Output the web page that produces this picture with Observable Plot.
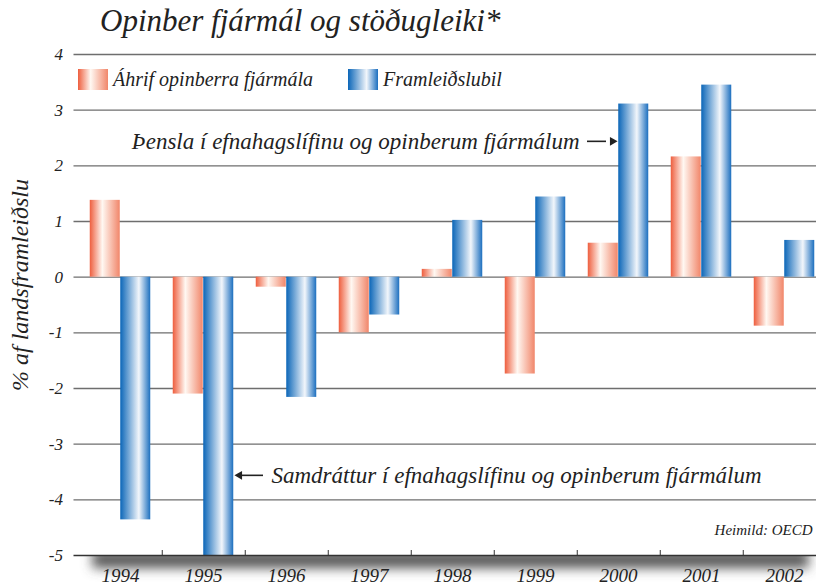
<!DOCTYPE html>
<html>
<head>
<meta charset="utf-8">
<script src="https://cdn.jsdelivr.net/npm/d3@7"></script>
<script src="https://cdn.jsdelivr.net/npm/@observablehq/plot@0.6"></script>
<style>
  html, body { margin: 0; padding: 0; background: #fff; overflow: hidden; }
  #wrap { position: relative; width: 816px; height: 586px; overflow: hidden; font-family: "Liberation Serif", "Times New Roman", Tinos, "DejaVu Serif", "Noto Serif", serif; color: #222; }
  #wrap svg { position: absolute; left: 0; top: 0; max-width: none !important; }
  #title { position: absolute; left: 100px; top: 3px; font-style: italic; font-size: 31px; white-space: nowrap; z-index: 2; }
  .leg { position: absolute; top: 69px; height: 21px; display: flex; align-items: center; font-style: italic; font-size: 20px; white-space: nowrap; z-index: 2; }
  .sw { width: 30px; height: 21px; margin-right: 5px; }
  #ylab { position: absolute; left: 20px; top: 285px; transform: translate(-50%, -50%) rotate(-90deg); font-style: italic; font-size: 24px; white-space: nowrap; z-index: 2; }
</style>
</head>
<body>
<div id="wrap">
  <div id="title">Opinber fjármál og stöðugleiki*</div>
  <div class="leg" style="left:78px"><div class="sw" style="background:linear-gradient(90deg,#ee5e3e 0%,#fff8f2 42%,#f1866a 100%)"></div>Áhrif opinberra fjármála</div>
  <div class="leg" style="left:348px"><div class="sw" style="background:linear-gradient(90deg,#0b66b8 0%,#f2f6fb 62%,#1c6fbf 100%)"></div>Framleiðslubil</div>
  <div id="ylab">% af landsframleiðslu</div>
</div>
<script>
// ---- data ----
const years = [1994, 1995, 1996, 1997, 1998, 1999, 2000, 2001, 2002];
const fiscalImpact = [1.38, -2.1, -0.18, -1.0, 0.14, -1.74, 0.61, 2.16, -0.88];   // Áhrif opinberra fjármála
const outputGap   = [-4.36, -5.0, -2.16, -0.68, 1.02, 1.44, 3.11, 3.45, 0.66];    // Framleiðslubil
const yTicks = [4, 3, 2, 1, 0, -1, -2, -3, -4, -5];
const notes = [
  {year: 2000, y: 2.44, text: "Þensla í efnahagslífinu og opinberum fjármálum"},
  {year: 1995, y: -3.56, text: "Samdráttur í efnahagslífinu og opinberum fjármálum"}
];
const source = [{year: 2002, y: -4.55, text: "Heimild: OECD"}];

const fiscalData = years.map((year, i) => ({year, value: fiscalImpact[i]}));
const gapData = years.map((year, i) => ({year, value: outputGap[i]}));

const FONT = "'Liberation Serif', 'Times New Roman', Tinos, 'DejaVu Serif', 'Noto Serif', serif";
const NS = "http://www.w3.org/2000/svg";
function el(name, attrs, children = []) {
  const e = document.createElementNS(NS, name);
  for (const k in attrs) e.setAttribute(k, attrs[k]);
  for (const c of children) e.appendChild(c);
  return e;
}
function grad(id, stops) {
  return el("linearGradient", {id, x1: "0", y1: "0", x2: "1", y2: "0"},
    stops.map(([o, c]) => el("stop", {offset: o, "stop-color": c})));
}
const defsMark = () => el("defs", {}, [
  grad("gRed", [["0%", "#ee5e3e"], ["42%", "#fff8f2"], ["100%", "#f1866a"]]),
  grad("gBlue", [["0%", "#0b66b8"], ["62%", "#f2f6fb"], ["100%", "#1c6fbf"]]),
  el("filter", {id: "blur", x: "-20%", y: "-200%", width: "140%", height: "500%"}, [
    el("feGaussianBlur", {stdDeviation: "6"})
  ])
]);
const shadowMark = (index, scales, values, dim) => {
  const y0 = scales.y(-5);
  const clip = el("clipPath", {id: "below"}, [el("rect", {x: 0, y: y0 + 1, width: dim.width, height: 40})]);
  const g = el("g", {"clip-path": "url(#below)"}, [
    el("rect", {x: dim.marginLeft + 16, y: y0 - 4, width: 716, height: 17, fill: "#555", filter: "url(#blur)"})
  ]);
  return el("g", {}, [clip, g]);
};

const chart = Plot.plot({
  width: 828,
  height: 586,
  marginLeft: 76.5,
  marginRight: 0,
  marginTop: 54,
  marginBottom: 31,
  style: {fontFamily: FONT, fontStyle: "italic", background: "transparent", color: "#222", overflow: "visible"},
  x: {domain: years, paddingInner: 0.635, paddingOuter: 0.3175},
  y: {domain: [-5, 4]},
  marks: [
    defsMark,
    Plot.ruleY(yTicks.filter(d => d > -5), {stroke: "#6e6e6e", strokeWidth: 1.4, insetLeft: -3}),
    shadowMark,
    Plot.barY(fiscalData, {x: "year", y: "value", fill: "url(#gRed)", dx: -15.25}),
    Plot.barY(gapData, {x: "year", y: "value", fill: "url(#gBlue)", dx: 15.25}),
    Plot.ruleY([-5], {stroke: "#333", strokeWidth: 1.4, insetLeft: -3}),
    Plot.ruleX(years.slice(0, -1), {y1: -5, y2: -5, insetTop: -5, dx: 41.75, stroke: "#333", strokeWidth: 1}),
    Plot.axisX({tickSize: 0, tickPadding: 13, fontSize: 19, tickFormat: d => String(d), label: null}),
    Plot.axisY({ticks: yTicks, tickFormat: d => String(d), tickSize: 0, tickPadding: 14, fontSize: 17, label: null}),
    // annotations
    Plot.text(notes.slice(0, 1), {x: "year", y: "y", text: "text", textAnchor: "end", dx: -39, fontSize: 23, fill: "#222"}),
    Plot.ruleY(notes.slice(0, 1), {y: "y", x1: "year", x2: "year", insetLeft: -16, insetRight: 27, stroke: "#222", strokeWidth: 1.6}),
    Plot.dot(notes.slice(0, 1), {x: "year", y: "y", symbol: "triangle2", rotate: 90, r: 4.2, dx: -6, fill: "#222", stroke: "none"}),
    Plot.text(notes.slice(1), {x: "year", y: "y", text: "text", textAnchor: "start", dx: 68, fontSize: 23, fill: "#222"}),
    Plot.ruleY(notes.slice(1), {y: "y", x1: "year", x2: "year", insetLeft: 52, insetRight: -45, stroke: "#222", strokeWidth: 1.6}),
    Plot.dot(notes.slice(1), {x: "year", y: "y", symbol: "triangle2", rotate: -90, r: 4.2, dx: 36, fill: "#222", stroke: "none"}),
    Plot.text(source, {x: "year", y: "y", text: "text", textAnchor: "end", dx: 28, fontSize: 15, fill: "#222"})
  ]
});
document.getElementById("wrap").prepend(chart);
</script>
</body>
</html>
